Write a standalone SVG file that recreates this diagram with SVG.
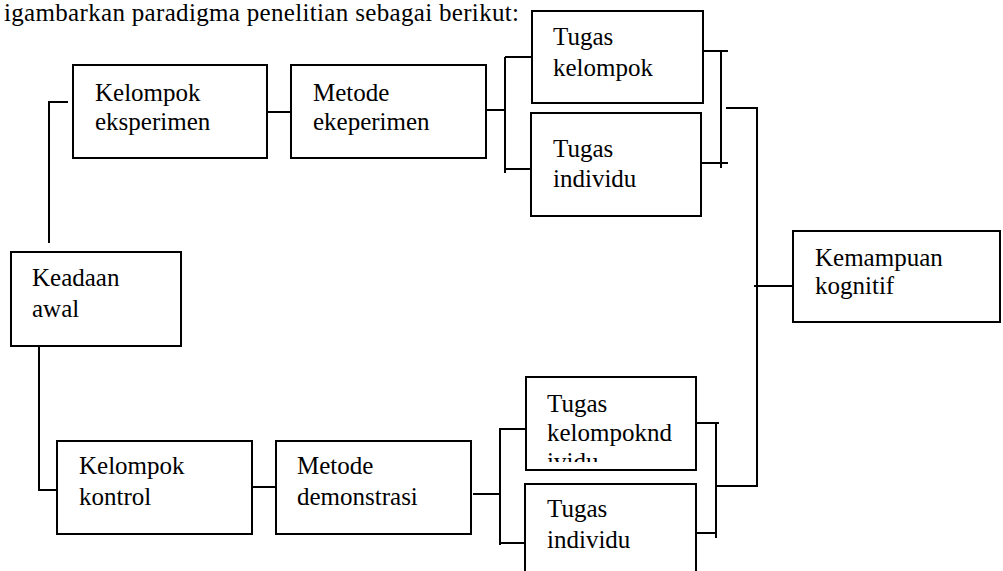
<svg xmlns="http://www.w3.org/2000/svg" width="1003" height="571" viewBox="0 0 1003 571">
<style>
.box{fill:#fff;stroke:#000;stroke-width:2}
.t{font-family:'Liberation Serif','Times New Roman',Times,'DejaVu Serif',serif;font-size:25px;fill:#000}
.c{fill:none;stroke:#000;stroke-width:2}
</style>
<defs>
<clipPath id="clipTK"><rect x="526" y="378" width="170" height="84"/></clipPath>
</defs>
<rect width="1003" height="571" fill="#fff"/>
<text class="t" x="4" y="21" textLength="515" lengthAdjust="spacing" font-family="Liberation Serif, DejaVu Serif, serif">igambarkan paradigma penelitian sebagai berikut:</text>
<g id="connectors">
<path class="c" d="M68 102 H49 V243"/>
<path class="c" d="M267 112 H291"/>
<path class="c" d="M486 110 H505 M505 57 V173 M505 57 H532 M505 169 H531"/>
<path class="c" d="M703 51 H728 M721 51 V168 M701 163 H728"/>
<path class="c" d="M726 108 H757 V487 M717 486 H757"/>
<path class="c" d="M754 286 H793"/>
<path class="c" d="M39 347 V490 H57"/>
<path class="c" d="M252 487 H276"/>
<path class="c" d="M473 494 H500 M500 428 V545 M500 429 H528 M500 543 H525"/>
<path class="c" d="M695 423 H719 M716 422 V538 M691 533 H716"/>
</g>
<g id="kelompok-eksperimen">
<rect class="box" x="73" y="65" width="194" height="93"/>
<text class="t" x="95" y="101">Kelompok</text>
<text class="t" x="95" y="130">eksperimen</text>
</g>
<g id="metode-ekeperimen">
<rect class="box" x="291" y="65" width="195" height="93"/>
<text class="t" x="313" y="101">Metode</text>
<text class="t" x="313" y="130">ekeperimen</text>
</g>
<g id="tugas-kelompok-1">
<rect class="box" x="532" y="11" width="171" height="92"/>
<text class="t" x="553" y="45">Tugas</text>
<text class="t" x="553" y="76">kelompok</text>
</g>
<g id="tugas-individu-1">
<rect class="box" x="531" y="113" width="170" height="103"/>
<text class="t" x="553" y="157">Tugas</text>
<text class="t" x="553" y="187">individu</text>
</g>
<g id="keadaan-awal">
<rect class="box" x="11" y="252" width="170" height="94"/>
<text class="t" x="32" y="286">Keadaan</text>
<text class="t" x="32" y="317">awal</text>
</g>
<g id="kemampuan-kognitif">
<rect class="box" x="793" y="231" width="207" height="91"/>
<text class="t" x="815" y="266">Kemampuan</text>
<text class="t" x="815" y="294">kognitif</text>
</g>
<g id="kelompok-kontrol">
<rect class="box" x="57" y="441" width="195" height="93"/>
<text class="t" x="79" y="474">Kelompok</text>
<text class="t" x="79" y="505">kontrol</text>
</g>
<g id="metode-demonstrasi">
<rect class="box" x="276" y="441" width="195" height="93"/>
<text class="t" x="297" y="474">Metode</text>
<text class="t" x="297" y="505">demonstrasi</text>
</g>
<g id="tugas-kelompok-2">
<rect class="box" x="526" y="377" width="170" height="93"/>
<g clip-path="url(#clipTK)">
<text class="t" x="547" y="412">Tugas</text>
<text class="t" x="547" y="441">kelompoknd</text>
<text class="t" x="547" y="470">ividu</text>
</g>
</g>
<g id="tugas-individu-2">
<rect class="box" x="525" y="484" width="171" height="100"/>
<text class="t" x="547" y="517">Tugas</text>
<text class="t" x="547" y="548">individu</text>
</g>
</svg>
